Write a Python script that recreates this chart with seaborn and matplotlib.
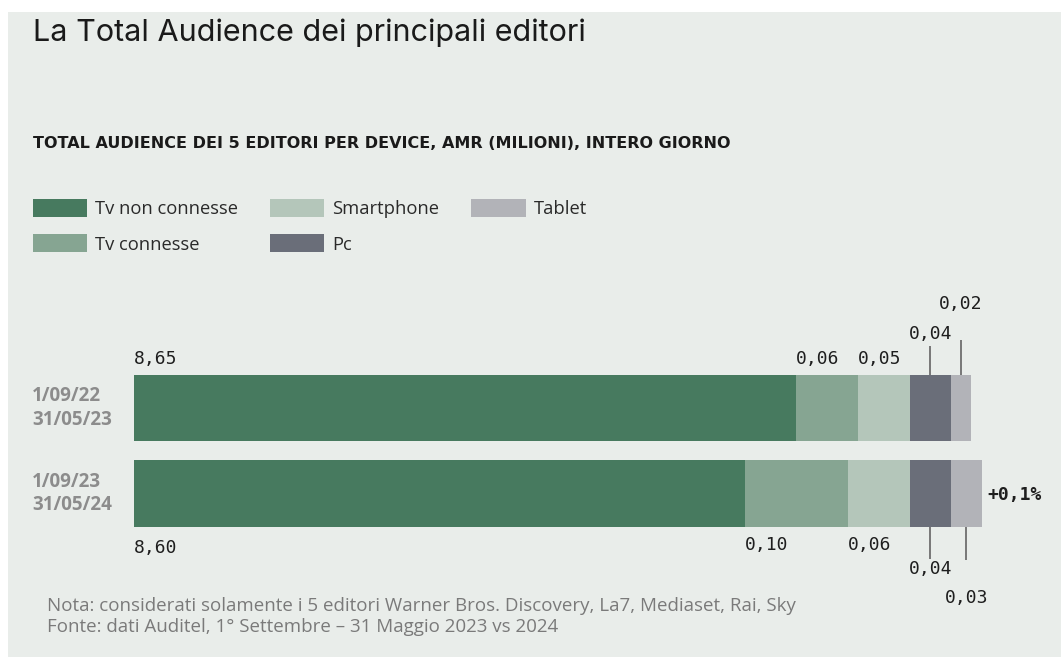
import pandas as pd
import numpy as np
import matplotlib
matplotlib.use('Agg')
import matplotlib.pyplot as plt
from matplotlib.patches import Rectangle, Patch
import seaborn as sns

# Dati (AMR milioni, intero giorno)
periods = ['1/09/22\n31/05/23', '1/09/23\n31/05/24']
devices = ['Tv non connesse', 'Tv connesse', 'Smartphone', 'Pc', 'Tablet']
tv_non_connesse = [8.65, 8.60]
tv_connesse = [0.06, 0.10]
smartphone = [0.05, 0.06]
pc = [0.04, 0.04]
tablet = [0.02, 0.03]
variazione = '+0,1%'

colors = ['#477a5f', '#86a592', '#b4c6ba', '#6a6e79', '#b2b3b8']
bg = '#e9edea'

sns.set_theme(style='white')
plt.rcParams['font.family'] = ['Inter', 'DejaVu Sans']
body = ['Open Sans', 'DejaVu Sans']

df = pd.DataFrame({
    'period': np.repeat(periods, len(devices)),
    'device': devices * len(periods),
    'value': np.ravel(np.column_stack([tv_non_connesse, tv_connesse, smartphone, pc, tablet])),
})
df['cum'] = df.groupby('period')['value'].cumsum()
df['start'] = df['cum'] - df['value']

W, H = 1061, 657
fig = plt.figure(figsize=(W / 100, H / 100), dpi=100, facecolor='white')
fig.patches.append(Rectangle((8 / W, 0), 1, 1 - 12 / H, transform=fig.transFigure,
                             facecolor=bg, edgecolor='none', zorder=-5))

# assi: x troncato (la barra principale parte da ~8)
ax = fig.add_axes([134 / W, (H - 560) / H, (W - 134) / W, 220 / H])
ax.set_facecolor('none')

# barre impilate: si disegnano i cumulati dal piu' lungo al piu' corto
for dev, col in reversed(list(zip(devices, colors))):
    sub = df[df['device'] == dev]
    sns.barplot(data=sub, x='cum', y='period', order=periods, color=col,
                width=0.78, saturation=1, linewidth=0, orient='h', ax=ax)

ax.set_xlim(8.007, 8.007 + (W - 134) / 1030)
ax.set_ylim(1 + 66.5 / 85.5, -68 / 85.5)
ax.axis('off')

px = 1 / 85.5  # unita' dati per pixel in verticale
half = 0.39
mono = dict(family='DejaVu Sans Mono', fontsize=13, color='#1e1e1e')
line_kw = dict(color='#777777', lw=1.4, solid_capstyle='butt')


def fmt(v):
    return f'{v:.2f}'.replace('.', ',')


x0 = ax.get_xlim()[0]
for i, p in enumerate(periods):
    sub = df[df['period'] == p].reset_index(drop=True)
    top = i - half
    bot = i + half
    ax.text(-0.11, i, p, transform=ax.get_yaxis_transform(), ha='left', va='center',
            fontsize=13.5, fontweight='bold', color='#8c8c8c', linespacing=1.25,
            family=body)
    if i == 0:
        ax.text(x0, top - 16 * px, fmt(sub.loc[0, 'value']), ha='left', va='center', **mono)
        for k in (1, 2):
            ax.text(sub.loc[k, 'start'], top - 16 * px, fmt(sub.loc[k, 'value']),
                    ha='left', va='center', **mono)
        for k, d_txt, d_line in ((3, 41, 29), (4, 71, 59)):
            xc = (sub.loc[k, 'start'] + sub.loc[k, 'cum']) / 2
            ax.plot([xc, xc], [top, top - d_line * px], **line_kw)
            ax.text(xc, top - d_txt * px, fmt(sub.loc[k, 'value']), ha='center', va='center', **mono)
    else:
        ax.text(x0, bot + 21 * px, fmt(sub.loc[0, 'value']), ha='left', va='center', **mono)
        for k in (1, 2):
            ax.text(sub.loc[k, 'start'], bot + 18 * px, fmt(sub.loc[k, 'value']),
                    ha='left', va='center', **mono)
        for k, d_txt, d_line in ((3, 42, 32), (4, 71, 58)):
            xc = (sub.loc[k, 'start'] + sub.loc[k, 'cum']) / 2
            ax.plot([xc, xc], [bot, bot + d_line * px], **line_kw)
            ax.text(xc, bot + d_txt * px, fmt(sub.loc[k, 'value']), ha='center', va='center', **mono)
        ax.text(sub['cum'].iloc[-1] + 0.006, i + 1.5 * px, variazione, ha='left', va='center',
                family='DejaVu Sans Mono', fontsize=13, fontweight='bold', color='#1e1e1e')

# titoli
fig.text(33 / W, 1 - 33 / H, 'La Total Audience dei principali editori', ha='left', va='center',
         fontsize=22, color='#1a1a1a')
fig.text(33 / W, 1 - 144 / H, 'TOTAL AUDIENCE DEI 5 EDITORI PER DEVICE, AMR (MILIONI), INTERO GIORNO',
         ha='left', va='center', fontsize=11.5, fontweight='bold', color='#1a1a1a',
         family='DejaVu Sans')

# legenda
handles = [Patch(facecolor=c, edgecolor='none', label=d) for d, c in zip(devices, colors)]
fig.legend(handles=handles, loc='upper left', bbox_to_anchor=(33 / W, 1 - 199 / H),
           ncol=3, frameon=False, prop={'family': body, 'size': 13.2},
           borderpad=0, borderaxespad=0,
           handlelength=2.95, handleheight=1.15, handletextpad=0.44, columnspacing=1.75,
           labelspacing=0.87, labelcolor='#2a2a2a')

# note
for yy, txt in ((606, 'Nota: considerati solamente i 5 editori Warner Bros. Discovery, La7, Mediaset, Rai, Sky'),
                (627, 'Fonte: dati Auditel, 1° Settembre – 31 Maggio 2023 vs 2024')):
    fig.text(47 / W, 1 - yy / H, txt, ha='left', va='center', fontsize=13.5,
             color='#7a7a7a', family=body)

fig.savefig('out.png', dpi=100, facecolor=fig.get_facecolor())
